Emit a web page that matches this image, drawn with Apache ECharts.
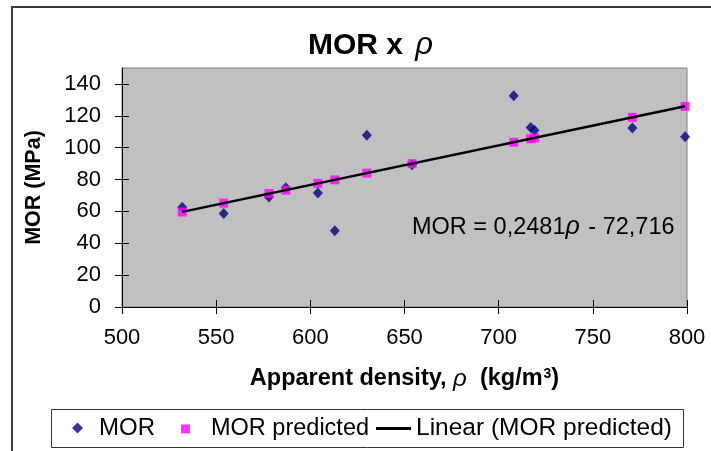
<!DOCTYPE html>
<html><head><meta charset="utf-8">
<script src="https://cdn.jsdelivr.net/npm/echarts@6/dist/echarts.min.js"></script>
<style>html,body{margin:0;padding:0;background:#fff}#c{width:711px;height:451px}</style>
</head><body><div id="c"></div>
<script>
// ---- data ----
const density   = [532, 554, 578, 587, 604, 613, 630, 654, 708, 717, 719, 771, 799];
const mor       = [62.6, 58.7, 69.0, 74.8, 71.6, 47.9, 107.8, 89.2, 132.6, 112.6, 111.0, 112.4, 106.8];
const predicted = [59.6, 65.2, 71.2, 73.3, 77.6, 79.8, 84.0, 90.0, 103.4, 105.6, 106.1, 119.0, 125.9];
const xTicks = [500, 550, 600, 650, 700, 750, 800];
const yTicks = [0, 20, 40, 60, 80, 100, 120, 140];
const xRange = [500, 800];
const yRange = [0, 150];
const seriesNames = ['MOR', 'MOR predicted', 'Linear (MOR predicted)'];
const equationText = ['MOR = 0,2481', 'ρ', ' - 72,716'];

// least-squares trend line through the predicted points
function fit(xs, ys) {
  const n = xs.length;
  let sx = 0, sy = 0, sxx = 0, sxy = 0;
  for (let i = 0; i < n; i++) { sx += xs[i]; sy += ys[i]; sxx += xs[i]*xs[i]; sxy += xs[i]*ys[i]; }
  const a = (n*sxy - sx*sy) / (n*sxx - sx*sx);
  const b = (sy - a*sx) / n;
  return [a, b];
}
const [ka, kb] = fit(density, predicted);
const xMin = Math.min(...density), xMax = Math.max(...density);
const trend = [[xMin, ka*xMin + kb], [xMax, ka*xMax + kb]];

const FONT = "'Liberation Sans', Arial, sans-serif";
const gridRect = { left: 122, top: 68, width: 565, height: 239 };

function xAxisDef(gridIndex, inside) {
  return {
    type: 'value', gridIndex, min: xRange[0], max: xRange[1], interval: 50,
    position: 'bottom',
    axisLine: { show: !inside, lineStyle: { color: '#000', width: 1 } },
    axisTick: { show: true, inside, length: 7, lineStyle: { color: '#000' }, customValues: xTicks },
    axisLabel: { show: !inside, customValues: xTicks, color: '#000', fontSize: 22, fontFamily: FONT, margin: 20 },
    splitLine: { show: false },
    name: inside ? '' : '{b|Apparent density, }{i|ρ}{b|  (kg/m}{s|3}{b|)}',
    nameLocation: 'middle', nameGap: 58,
    nameTextStyle: { rich: {
      b: { fontSize: 23.5, fontWeight: 'bold', fontFamily: FONT, color: '#000', lineHeight: 28 },
      i: { fontSize: 24, fontStyle: 'italic', fontWeight: 'normal', fontFamily: FONT, color: '#000', lineHeight: 28 },
      s: { fontSize: 14, fontWeight: 'bold', fontFamily: FONT, color: '#000', lineHeight: 14, verticalAlign: 'top', padding: [2, 0, 0, 1] }
    } }
  };
}
function yAxisDef(gridIndex, inside) {
  return {
    type: 'value', gridIndex, min: yRange[0], max: yRange[1], interval: 10,
    position: 'left',
    axisLine: { show: !inside, lineStyle: { color: '#000', width: 1 } },
    axisTick: { show: true, inside, length: 7, lineStyle: { color: '#000' }, customValues: yTicks },
    axisLabel: { show: !inside, customValues: yTicks, color: '#000', fontSize: 22, fontFamily: FONT, margin: 21 },
    splitLine: { show: false },
    name: inside ? '' : 'MOR (MPa)',
    nameLocation: 'middle', nameGap: 77, nameRotate: 90,
    nameTextStyle: { fontSize: 21.5, fontWeight: 'bold', fontFamily: FONT, color: '#000' }
  };
}

const chart = echarts.init(document.getElementById('c'), null, { renderer: 'canvas' });
chart.setOption({
  backgroundColor: '#fff',
  animation: false,
  title: {
    text: '{a|MOR x }{b|ρ}', left: 303, top: 25,
    textStyle: { rich: {
      a: { fontSize: 30, fontWeight: 'bold', fontFamily: FONT, color: '#000' },
      b: { fontSize: 31, fontStyle: 'italic', fontWeight: 'normal', fontFamily: FONT, color: '#000', padding: [0, 0, 0, 4] }
    } }
  },
  grid: [
    Object.assign({ show: true, backgroundColor: '#C0C0C0', borderColor: '#808080', borderWidth: 1 }, gridRect),
    Object.assign({ show: false }, gridRect)
  ],
  xAxis: [xAxisDef(0, false), xAxisDef(1, true)],
  yAxis: [yAxisDef(0, false), yAxisDef(1, true)],
  legend: [
    { data: [seriesNames[0]], left: 72, top: 416, padding: 0, itemWidth: 11, itemHeight: 11,
      textStyle: { fontSize: 24, fontFamily: FONT, color: '#000', padding: [0, 0, 0, 11] } },
    { data: [seriesNames[1]], left: 181, top: 417, padding: 0, itemWidth: 9, itemHeight: 9,
      textStyle: { fontSize: 23.5, fontFamily: FONT, color: '#000', padding: [0, 0, 0, 16] } },
    { data: [{ name: seriesNames[2], icon: 'rect' }], left: 376, top: 416, padding: 0, itemWidth: 35, itemHeight: 3,
      textStyle: { fontSize: 24.5, fontFamily: FONT, color: '#000', padding: [0, 0, 0, 0] } }
  ],
  graphic: [
    { type: 'rect', shape: { x: 12, y: 7, width: 720, height: 460 }, style: { fill: 'none', stroke: '#3a3a3a', lineWidth: 2 }, z: -10, silent: true },
    { type: 'rect', shape: { x: 51.5, y: 409.5, width: 632, height: 38 }, style: { fill: '#fff', stroke: '#333', lineWidth: 1 }, z: -5, silent: true },
    { type: 'text', left: 412, top: 215, z: 50,
      style: { text: '{a|' + equationText[0] + '}{b|' + equationText[1] + '}{a|' + equationText[2] + '}',
        rich: {
          a: { fontSize: 23.5, fontFamily: FONT, fill: '#000', color: '#000' },
          b: { fontSize: 25, fontStyle: 'italic', fontFamily: FONT, fill: '#000', color: '#000', padding: [0, 2, 0, 0] }
        } } }
  ],
  series: [
    { name: seriesNames[0], type: 'scatter', xAxisIndex: 0, yAxisIndex: 0, symbol: 'diamond', symbolSize: [10, 11],
      itemStyle: { color: '#000080' }, z: 2,
      data: density.map((d, i) => [d, mor[i]]) },
    { name: seriesNames[1], type: 'scatter', xAxisIndex: 0, yAxisIndex: 0, symbol: 'rect', symbolSize: 9,
      itemStyle: { color: '#FF00FF' }, z: 3,
      data: density.map((d, i) => [d, predicted[i]]) },
    { name: seriesNames[2], type: 'line', xAxisIndex: 0, yAxisIndex: 0, symbol: 'none', z: 4,
      lineStyle: { color: '#000', width: 2.5 }, itemStyle: { color: '#000' },
      data: trend }
  ]
});
</script></body></html>
